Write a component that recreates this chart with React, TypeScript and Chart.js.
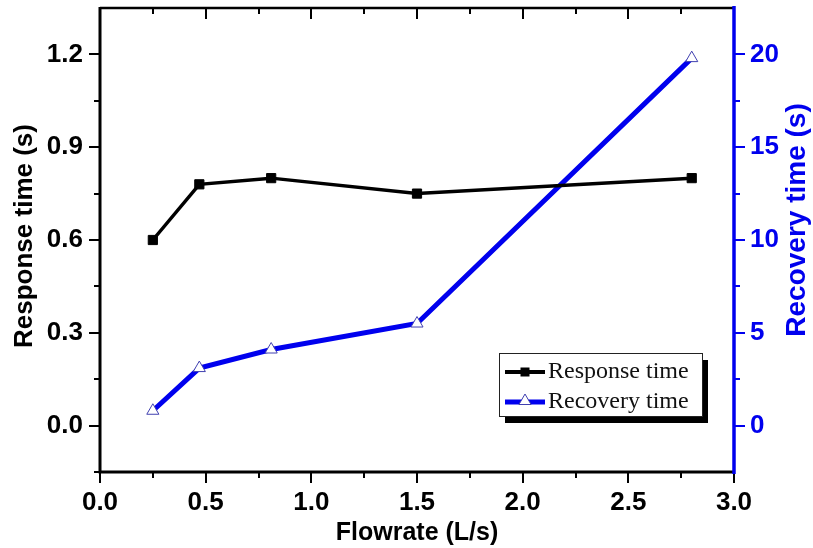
import { useEffect, useRef } from 'react';
import { Chart, registerables } from 'chart.js';

Chart.register(...registerables);

// ---- data ----
const flowrate = [0.25, 0.47, 0.81, 1.5, 2.8];
const responseTime = [0.6, 0.78, 0.8, 0.75, 0.8];
const recoveryTime = [0.8, 3.1, 4.1, 5.5, 19.8];

const xTickValues = [0, 0.5, 1.0, 1.5, 2.0, 2.5, 3.0];
const leftTickValues = [0, 0.3, 0.6, 0.9, 1.2];
const rightTickValues = [0, 5, 10, 15, 20];

const seriesNames = ['Response time', 'Recovery time'];
const xTitle = 'Flowrate (L/s)';
const yTitle = 'Response time (s)';
const y1Title = 'Recovery time (s)';

const BLUE = '#0000ee';
const SANS = '"Liberation Sans", Arial, sans-serif';
const SERIF = '"Liberation Serif", "Times New Roman", serif';

const framePlugin = {
  id: 'frame',
  afterDraw(chart: any) {
    const { ctx, chartArea: a, scales } = chart;
    const xs = scales.x, ys = scales.y, ys1 = scales.y1;
    ctx.save();
    ctx.lineCap = 'butt';

    // bottom + top ticks
    ctx.strokeStyle = '#000';
    ctx.lineWidth = 2;
    for (let i = 0; i <= 12; i++) {
      const v = i * 0.25;
      const px = Math.round(xs.getPixelForValue(v));
      const major = i % 2 === 0;
      ctx.beginPath();
      ctx.moveTo(px, a.bottom);
      ctx.lineTo(px, a.bottom + (major ? 11 : 6));
      if (i > 0 && i < 12) {
        ctx.moveTo(px, a.top);
        ctx.lineTo(px, a.top + (major ? 11 : 6));
      }
      ctx.stroke();
    }
    // left ticks
    for (let i = -1; i <= 8; i++) {
      const v = i * 0.15;
      const py = Math.round(ys.getPixelForValue(v));
      const major = i % 2 === 0;
      ctx.beginPath();
      ctx.moveTo(a.left, py);
      ctx.lineTo(a.left - (major ? 11 : 6), py);
      ctx.stroke();
    }
    // right ticks
    ctx.strokeStyle = BLUE;
    for (let i = 0; i <= 8; i++) {
      const v = i * 2.5;
      const py = Math.round(ys1.getPixelForValue(v));
      const major = i % 2 === 0;
      ctx.beginPath();
      ctx.moveTo(a.right, py);
      ctx.lineTo(a.right + (major ? 11 : 6), py);
      ctx.stroke();
    }

    // frame lines
    ctx.strokeStyle = '#000';
    ctx.lineWidth = 2.5;
    ctx.beginPath();
    ctx.moveTo(a.left, a.top);
    ctx.lineTo(a.right, a.top);
    ctx.stroke();
    ctx.lineWidth = 3;
    ctx.beginPath();
    ctx.moveTo(a.left, a.top - 1);
    ctx.lineTo(a.left, a.bottom + 1.5);
    ctx.moveTo(a.left - 1.5, a.bottom);
    ctx.lineTo(a.right, a.bottom);
    ctx.stroke();
    ctx.strokeStyle = BLUE;
    ctx.lineWidth = 3.5;
    ctx.beginPath();
    ctx.moveTo(a.right, a.top - 2);
    ctx.lineTo(a.right, a.bottom + 2);
    ctx.stroke();

    // axis titles
    ctx.textAlign = 'center';
    ctx.textBaseline = 'middle';
    ctx.fillStyle = '#000';
    ctx.font = `bold 25px ${SANS}`;
    ctx.fillText(xTitle, (a.left + a.right) / 2, 533);
    ctx.save();
    ctx.font = `bold 26px ${SANS}`;
    ctx.translate(25, 236);
    ctx.rotate(-Math.PI / 2);
    ctx.fillText(yTitle, 0, 0);
    ctx.restore();
    ctx.save();
    ctx.font = `bold 28px ${SANS}`;
    ctx.fillStyle = BLUE;
    ctx.translate(797, 220);
    ctx.rotate(-Math.PI / 2);
    ctx.fillText(y1Title, 0, 0);
    ctx.restore();

    // legend
    const lx = 499, ly = 353, lw = 203, lh = 63;
    ctx.fillStyle = '#000';
    ctx.fillRect(lx + 6, ly + 7, lw, lh);
    ctx.fillStyle = '#fff';
    ctx.fillRect(lx, ly, lw, lh);
    ctx.strokeStyle = '#222';
    ctx.lineWidth = 1;
    ctx.strokeRect(lx + 0.5, ly + 0.5, lw, lh);

    const rows = [ly + 19, ly + 49];
    // row 1: response
    ctx.strokeStyle = '#000';
    ctx.lineWidth = 4;
    ctx.beginPath();
    ctx.moveTo(lx + 6, rows[0]);
    ctx.lineTo(lx + 46, rows[0]);
    ctx.stroke();
    ctx.fillStyle = '#000';
    ctx.fillRect(lx + 26 - 4.5, rows[0] - 4.5, 9, 9);
    // row 2: recovery
    ctx.strokeStyle = BLUE;
    ctx.lineWidth = 5;
    ctx.beginPath();
    ctx.moveTo(lx + 6, rows[1]);
    ctx.lineTo(lx + 46, rows[1]);
    ctx.stroke();
    ctx.fillStyle = '#fff';
    ctx.strokeStyle = '#4040b0';
    ctx.lineWidth = 1;
    ctx.beginPath();
    const cx = lx + 26, cy = rows[1] - 1, r = 7;
    ctx.moveTo(cx, cy - r);
    ctx.lineTo(cx + r * 0.866, cy + r * 0.5);
    ctx.lineTo(cx - r * 0.866, cy + r * 0.5);
    ctx.closePath();
    ctx.fill();
    ctx.stroke();

    ctx.fillStyle = '#111';
    ctx.font = `24px ${SERIF}`;
    ctx.textAlign = 'left';
    ctx.textBaseline = 'middle';
    ctx.fillText(seriesNames[0], lx + 49, rows[0]);
    ctx.fillText(seriesNames[1], lx + 49, rows[1]);
    ctx.restore();
  },
};

export default function App() {
  const ref = useRef<HTMLCanvasElement | null>(null);

  useEffect(() => {
    if (!ref.current) return;
    const tickFont = { family: SANS, size: 26, weight: 'bold' as const };
    const noPad = (s: any) => {
      s.paddingTop = 0;
      s.paddingBottom = 0;
      s.paddingLeft = 0;
      s.paddingRight = 0;
    };
    const chart = new Chart(ref.current, {
      type: 'line',
      data: {
        datasets: [
          {
            label: seriesNames[0],
            data: flowrate.map((x, i) => ({ x, y: responseTime[i] })),
            yAxisID: 'y',
            borderColor: '#000',
            backgroundColor: '#000',
            borderWidth: 3.5,
            pointStyle: 'rect',
            pointRadius: 6.5,
            pointBackgroundColor: '#000',
            pointBorderColor: '#000',
            pointBorderWidth: 1,
            tension: 0,
          },
          {
            label: seriesNames[1],
            data: flowrate.map((x, i) => ({ x, y: recoveryTime[i] })),
            yAxisID: 'y1',
            borderColor: BLUE,
            backgroundColor: BLUE,
            borderWidth: 5,
            pointStyle: 'triangle',
            pointRadius: 7,
            pointBackgroundColor: '#fff',
            pointBorderColor: '#4040b0',
            pointBorderWidth: 1,
            tension: 0,
          },
        ],
      },
      options: {
        animation: false,
        responsive: false,
        layout: { padding: { top: 7, left: 0, right: 0, bottom: 0 } },
        plugins: { legend: { display: false }, tooltip: { enabled: false } },
        scales: {
          x: {
            type: 'linear',
            position: 'bottom',
            min: 0,
            max: 3,
            grid: { display: false, drawTicks: false },
            border: { display: false },
            ticks: {
              autoSkip: false,
              maxRotation: 0,
              padding: 15,
              color: '#000',
              font: tickFont,
              callback: (v: any) => Number(v).toFixed(1),
            },
            afterBuildTicks: (s: any) => {
              s.ticks = xTickValues.map((value) => ({ value }));
            },
            afterFit: (s: any) => {
              s.height = 76;
              noPad(s);
            },
          },
          y: {
            type: 'linear',
            position: 'left',
            min: -0.15,
            max: 1.35,
            grid: { display: false, drawTicks: false },
            border: { display: false },
            ticks: {
              autoSkip: false,
              padding: 17,
              color: '#000',
              font: tickFont,
              callback: (v: any) => Number(v).toFixed(1),
            },
            afterBuildTicks: (s: any) => {
              s.ticks = leftTickValues.map((value) => ({ value }));
            },
            afterFit: (s: any) => {
              s.width = 100;
              noPad(s);
            },
          },
          y1: {
            type: 'linear',
            position: 'right',
            min: -2.5,
            max: 22.5,
            grid: { display: false, drawTicks: false },
            border: { display: false },
            ticks: {
              autoSkip: false,
              padding: 16,
              color: BLUE,
              font: tickFont,
              callback: (v: any) => String(Math.round(Number(v))),
            },
            afterBuildTicks: (s: any) => {
              s.ticks = rightTickValues.map((value) => ({ value }));
            },
            afterFit: (s: any) => {
              s.width = 79;
              noPad(s);
            },
          },
        },
      },
      plugins: [framePlugin],
    });
    return () => chart.destroy();
  }, []);

  return (
    <div style={{ position: 'absolute', left: 0, top: 0, width: 813, height: 548, background: '#fff' }}>
      <canvas ref={ref} width={813} height={548} style={{ display: 'block' }} />
    </div>
  );
}
